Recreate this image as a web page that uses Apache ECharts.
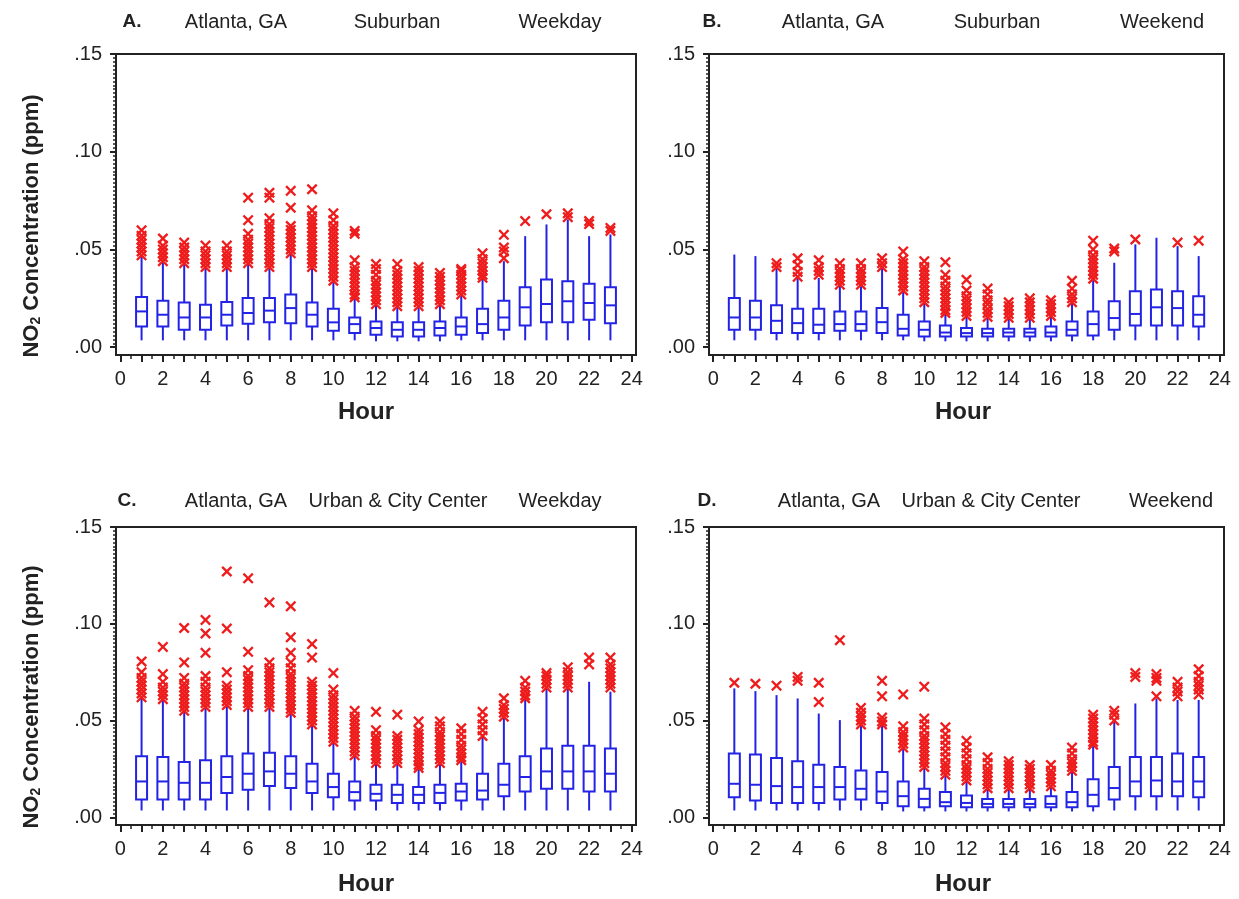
<!DOCTYPE html>
<html lang="en">
<head>
<meta charset="UTF-8">
<title>NO2 by hour, Atlanta</title>
<script src="https://cdn.jsdelivr.net/npm/echarts@6/dist/echarts.min.js"></script>
<style>
    *{margin:0;padding:0;box-sizing:border-box;}
    html,body{width:100vw;height:100vh;background:#fff;}
    #main{width:1239px;height:899px;}
</style>
</head>
<body>
<div id="main"></div>
<script>
    // ---- data (ppm), hours 1..23 ----
    var hours = [1,2,3,4,5,6,7,8,9,10,11,12,13,14,15,16,17,18,19,20,21,22,23];
    var xTickLabels = [0,2,4,6,8,10,12,14,16,18,20,22,24];
    var yTickLabels = [0, .05, .10, .15];

    // A. Suburban, weekday
    var aMin = [.0035,.0035,.0035,.0035,.0035,.0035,.0035,.0035,.0035,.0035,.0035,.003,.003,.003,.003,.0035,.0035,.0035,.0035,.0035,.0035,.0035,.0035];
    var aQ1  = [.0106,.0106,.0089,.0089,.0111,.0120,.0127,.0123,.0106,.0084,.0072,.0063,.0055,.0055,.0060,.0063,.0072,.0089,.0111,.0128,.0128,.0140,.0123];
    var aMed = [.0183,.0166,.0152,.0152,.0166,.0175,.0187,.0200,.0166,.0127,.0118,.0098,.0089,.0089,.0098,.0106,.0118,.0152,.0204,.0221,.0235,.0226,.0214];
    var aQ3  = [.0257,.0238,.0229,.0217,.0231,.0252,.0252,.0269,.0229,.0197,.0152,.0132,.0128,.0128,.0132,.0152,.0197,.0238,.0307,.0346,.0337,.0324,.0307];
    var aMax = [.0466,.0432,.0423,.0406,.0406,.0423,.0406,.0474,.0406,.0337,.0252,.0217,.0209,.0209,.0217,.0269,.0354,.0440,.0568,.0628,.0654,.0568,.0577];
    var aOut = [
        [.047,.049,.051,.053,.055,.057,.0598],
        [.044,.046,.048,.050,.052,.0556],
        [.043,.045,.047,.049,.051,.0535],
        [.041,.043,.045,.047,.049,.052],
        [.041,.043,.045,.047,.049,.052],
        [.043,.045,.047,.049,.051,.053,.055,.058,.065,.0765],
        [.041,.043,.045,.047,.049,.051,.053,.055,.057,.059,.061,.063,.066,.0765,.079],
        [.048,.050,.052,.054,.056,.058,.060,.062,.0714,.080],
        [.041,.043,.045,.047,.049,.051,.053,.055,.057,.059,.061,.063,.065,.067,.070,.0808],
        [.034,.036,.038,.040,.042,.044,.046,.048,.050,.052,.054,.056,.058,.060,.062,.065,.0685],
        [.0255,.027,.029,.031,.033,.035,.037,.039,.041,.0445,.058,.0595],
        [.022,.024,.026,.028,.030,.032,.034,.037,.040,.0425],
        [.021,.023,.025,.027,.029,.031,.033,.035,.037,.039,.0425],
        [.021,.023,.025,.027,.029,.031,.033,.035,.037,.039,.041],
        [.022,.024,.026,.028,.030,.032,.034,.036,.038],
        [.027,.029,.031,.033,.035,.037,.039,.040],
        [.0355,.037,.039,.041,.043,.045,.048],
        [.0455,.049,.051,.0575],
        [.0645],
        [.068],
        [.0665,.0685],
        [.063,.0645],
        [.0595,.061]
    ];

    // B. Suburban, weekend
    var bMin = [.0035,.0035,.0035,.0035,.0035,.0035,.0035,.0035,.0035,.003,.003,.003,.003,.003,.003,.003,.003,.0035,.0035,.0035,.0035,.0035,.0035];
    var bQ1  = [.0089,.0089,.0072,.0072,.0072,.0084,.0084,.0072,.0060,.0055,.0055,.0055,.0055,.0055,.0055,.0055,.0060,.0060,.0089,.0111,.0111,.0111,.0106];
    var bMed = [.0152,.0152,.0135,.0123,.0115,.0118,.0118,.0128,.0094,.0089,.0075,.0072,.0072,.0075,.0075,.0075,.0089,.0118,.0149,.0170,.0204,.0200,.0166];
    var bQ3  = [.0252,.0238,.0214,.0197,.0197,.0183,.0183,.0200,.0166,.0132,.0111,.0098,.0094,.0094,.0094,.0106,.0132,.0183,.0235,.0286,.0295,.0286,.0260];
    var bMax = [.0474,.0466,.0406,.0354,.0354,.0320,.0312,.0406,.0286,.0226,.0175,.0158,.0152,.0149,.0149,.0158,.0226,.0346,.0432,.0526,.0560,.0517,.0466];
    var bOut = [
        [],
        [],
        [.041,.043],
        [.036,.0385,.042,.0455],
        [.037,.039,.041,.0445],
        [.032,.034,.036,.038,.040,.043],
        [.032,.034,.036,.038,.040,.043],
        [.041,.043,.0455],
        [.029,.031,.033,.035,.037,.039,.041,.043,.045,.049],
        [.023,.025,.027,.029,.031,.033,.035,.037,.039,.041,.044],
        [.0175,.019,.021,.023,.025,.027,.029,.031,.034,.037,.0435],
        [.016,.018,.020,.022,.024,.026,.029,.0345],
        [.0155,.0175,.0195,.022,.024,.027,.030],
        [.015,.017,.019,.021,.023],
        [.015,.017,.019,.021,.023,.025],
        [.016,.018,.020,.022,.024],
        [.023,.025,.027,.030,.034],
        [.035,.037,.039,.041,.043,.045,.047,.050,.0545],
        [.049,.0505],
        [.0551],
        [],
        [.0535],
        [.0545]
    ];

    // C. Urban & City Center, weekday
    var cMin = [.0035,.0035,.0035,.0035,.0035,.0035,.0035,.0035,.0035,.0035,.0035,.0035,.0035,.0035,.0035,.0035,.0035,.0035,.0035,.0035,.0035,.0035,.0035];
    var cQ1  = [.0092,.0092,.0092,.0092,.0126,.0142,.0161,.0151,.0125,.0104,.0087,.0087,.0074,.0074,.0074,.0087,.0092,.0109,.0133,.0147,.0147,.0133,.0133];
    var cMed = [.0185,.0185,.0178,.0178,.0208,.0225,.0237,.0225,.0185,.0156,.0130,.0121,.0116,.0116,.0126,.0133,.0138,.0168,.0208,.0237,.0237,.0237,.0225];
    var cQ3  = [.0315,.0311,.0285,.0294,.0315,.0329,.0334,.0315,.0277,.0225,.0185,.0168,.0168,.0156,.0168,.0173,.0225,.0277,.0315,.0355,.0369,.0369,.0355];
    var cMax = [.0614,.0606,.0545,.0570,.0580,.0570,.0570,.0536,.0476,.0389,.0320,.0277,.0277,.0251,.0277,.0294,.0415,.0519,.0614,.0666,.0666,.0700,.0649];
    var cOut = [
        [.062,.064,.066,.068,.070,.072,.075,.0805],
        [.061,.063,.065,.067,.070,.074,.088],
        [.055,.057,.059,.061,.063,.065,.067,.069,.072,.080,.0978],
        [.057,.059,.061,.063,.065,.067,.070,.073,.085,.095,.102],
        [.058,.060,.062,.064,.066,.068,.075,.0975,.127],
        [.057,.059,.061,.063,.065,.067,.069,.071,.073,.076,.0855,.1235],
        [.057,.059,.061,.063,.065,.067,.069,.071,.073,.075,.077,.080,.111],
        [.054,.056,.058,.060,.062,.064,.066,.068,.070,.072,.074,.077,.080,.085,.093,.109],
        [.048,.050,.052,.054,.056,.058,.060,.062,.064,.066,.068,.070,.0825,.0895],
        [.039,.041,.043,.045,.047,.049,.051,.053,.055,.057,.059,.061,.063,.066,.0745],
        [.032,.034,.036,.038,.040,.042,.044,.046,.048,.050,.052,.055],
        [.028,.030,.032,.034,.036,.038,.040,.042,.045,.0545],
        [.028,.030,.032,.034,.036,.038,.040,.042,.053],
        [.0255,.027,.029,.031,.033,.035,.037,.039,.041,.043,.045,.0495],
        [.028,.030,.032,.034,.036,.038,.040,.042,.044,.047,.0495],
        [.0295,.031,.033,.035,.037,.040,.043,.046],
        [.042,.045,.048,.051,.0545],
        [.052,.054,.056,.058,.0615],
        [.0615,.063,.065,.067,.0705],
        [.067,.069,.071,.073,.0745],
        [.067,.069,.071,.073,.075,.0775],
        [.079,.0825],
        [.067,.069,.071,.073,.075,.077,.079,.0825]
    ];

    // D. Urban & City Center, weekend
    var dMin = [.0035,.0035,.0035,.0035,.0035,.0035,.0035,.0035,.003,.003,.003,.003,.003,.003,.003,.003,.003,.003,.0035,.0035,.0035,.0035,.0035];
    var dQ1  = [.0104,.0087,.0074,.0074,.0074,.0092,.0092,.0074,.0057,.0052,.0057,.0052,.0052,.0052,.0052,.0052,.0052,.0057,.0092,.0109,.0109,.0109,.0104];
    var dMed = [.0173,.0168,.0161,.0156,.0156,.0156,.0147,.0133,.0109,.0095,.0078,.0074,.0069,.0069,.0069,.0069,.0078,.0116,.0151,.0185,.0190,.0185,.0185];
    var dQ3  = [.0329,.0324,.0306,.0289,.0272,.0260,.0242,.0234,.0185,.0147,.0130,.0112,.0095,.0095,.0095,.0109,.0130,.0196,.0260,.0311,.0311,.0329,.0311];
    var dMax = [.0666,.0652,.0631,.0614,.0536,.0502,.0476,.0476,.0355,.0260,.0216,.0190,.0147,.0147,.0147,.0156,.0234,.0372,.0493,.0588,.0614,.0606,.0606];
    var dOut = [
        [.0695],
        [.069],
        [.068],
        [.0705,.0725],
        [.0595,.0695],
        [.0915],
        [.048,.050,.052,.054,.0565],
        [.048,.0495,.0515,.0625,.0705],
        [.036,.038,.040,.042,.044,.047,.0635],
        [.026,.028,.030,.032,.034,.036,.038,.040,.042,.045,.048,.051,.0675],
        [.022,.024,.026,.028,.031,.034,.037,.040,.043,.0465],
        [.019,.021,.023,.025,.027,.030,.033,.036,.0395],
        [.015,.017,.019,.021,.023,.025,.028,.031],
        [.015,.017,.019,.021,.023,.025,.027,.029],
        [.015,.017,.019,.021,.023,.025,.027],
        [.016,.018,.020,.022,.024,.027],
        [.024,.026,.028,.030,.033,.036],
        [.0375,.039,.041,.043,.045,.047,.049,.051,.053],
        [.050,.053,.055],
        [.0725,.0745],
        [.0625,.0705,.072,.074],
        [.0625,.065,.067,.070],
        [.0635,.066,.068,.070,.073,.0765]
    ];

    // ---- styling ----
    var INK = '#222';
    var BLUE = '#2323e6';
    var RED = '#ee1c1c';
    var FONT = "'Liberation Sans', Arial, sans-serif";
    var XMARK = 'path://M0,1.5 L1.5,0 L5,3.5 L8.5,0 L10,1.5 L6.5,5 L10,8.5 L8.5,10 L5,6.5 L1.5,10 L0,8.5 L3.5,5 Z';

    var xHourTicks = [];
    for (var h = 0; h <= 24; h++) xHourTicks.push(h);
    var xHalfTicks = [];
    for (var t = 0.5; t < 24; t += 1) xHalfTicks.push(t);
    var yMinorTicks = [];
    for (var k = 1; k < 75; k++) if (k % 25) yMinorTicks.push(k * 0.002);

    var panels = [
        {grid:{left:116, top:54, width:520, height:301}, mn:aMin, q1:aQ1, md:aMed, q3:aQ3, mx:aMax, out:aOut},
        {grid:{left:709, top:54, width:515, height:301}, mn:bMin, q1:bQ1, md:bMed, q3:bQ3, mx:bMax, out:bOut},
        {grid:{left:116, top:527, width:520, height:298}, mn:cMin, q1:cQ1, md:cMed, q3:cQ3, mx:cMax, out:cOut},
        {grid:{left:709, top:527, width:515, height:298}, mn:dMin, q1:dQ1, md:dMed, q3:dQ3, mx:dMax, out:dOut}
    ];

    function renderBox(params, api) {
        var x = api.value(0);
        var p = [1,2,3,4,5].map(function (i) { return api.coord([x, api.value(i)]); });
        var cx = p[0][0], hw = 5.5;
        var st = {stroke: BLUE, lineWidth: 2, fill: null};
        return {type:'group', children:[
            {type:'line', shape:{x1:cx, y1:p[0][1], x2:cx, y2:p[1][1]}, style:st},
            {type:'line', shape:{x1:cx, y1:p[3][1], x2:cx, y2:p[4][1]}, style:st},
            {type:'rect', shape:{x:cx-hw, y:p[3][1], width:2*hw, height:p[1][1]-p[3][1]}, style:st},
            {type:'line', shape:{x1:cx-hw, y1:p[2][1], x2:cx+hw, y2:p[2][1]}, style:st}
        ]};
    }

    var grids = [], xAxes = [], yAxes = [], series = [];
    panels.forEach(function (pn, g) {
        grids.push(Object.assign({show:true, borderColor:INK, borderWidth:2}, pn.grid));
        // main x axis + half-hour ticks
        xAxes.push({type:'value', gridIndex:g, min:-0.2, max:24.2, position:'bottom',
            axisLine:{show:true, onZero:false, lineStyle:{color:INK, width:2}},
            axisTick:{show:true, length:7, customValues:xHourTicks, lineStyle:{color:INK, width:2}},
            axisLabel:{customValues:xTickLabels, fontSize:20, color:INK, margin:14, fontFamily:FONT},
            splitLine:{show:false}});
        xAxes.push({type:'value', gridIndex:g, min:-0.2, max:24.2, position:'bottom',
            axisLine:{show:false, onZero:false},
            axisTick:{show:true, length:4, customValues:xHalfTicks, lineStyle:{color:INK, width:1.5}},
            axisLabel:{show:false}, splitLine:{show:false}});
        yAxes.push({type:'value', gridIndex:g, min:-0.004, max:0.15, position:'left',
            axisLine:{show:true, onZero:false, lineStyle:{color:INK, width:2}},
            axisTick:{show:true, length:6, customValues:yTickLabels, lineStyle:{color:INK, width:2}},
            axisLabel:{customValues:yTickLabels, fontSize:20, color:INK, margin:14, fontFamily:FONT,
                formatter:function (v) { return v.toFixed(2).replace(/^0/, ''); }},
            splitLine:{show:false}});
        yAxes.push({type:'value', gridIndex:g, min:-0.004, max:0.15, position:'left',
            axisLine:{show:false, onZero:false},
            axisTick:{show:true, length:3, customValues:yMinorTicks, lineStyle:{color:INK, width:1.5}},
            axisLabel:{show:false}, splitLine:{show:false}});

        var boxes = hours.map(function (hr, i) { return [hr, pn.mn[i], pn.q1[i], pn.md[i], pn.q3[i], pn.mx[i]]; });
        var pts = [];
        pn.out.forEach(function (vals, i) { vals.forEach(function (v) { pts.push([hours[i], v]); }); });

        series.push({type:'custom', xAxisIndex:2*g, yAxisIndex:2*g, renderItem:renderBox,
            data:boxes, encode:{x:0, y:[1,2,3,4,5]}, z:2, silent:true});
        series.push({type:'scatter', xAxisIndex:2*g, yAxisIndex:2*g, data:pts,
            symbol:XMARK, symbolSize:11, itemStyle:{color:RED, opacity:1}, z:3, silent:true});
    });

    function txt(x, y, s, size, bold) {
        return {type:'text', x:x, y:y, style:{text:s, font:(bold ? 'bold ' : '') + size + 'px ' + FONT,
            fill:INK, textAlign:'center', textVerticalAlign:'middle'}};
    }
    function yName(x, y) {
        return {type:'text', x:x, y:y, rotation:Math.PI/2,
            style:{text:'{a|NO}{b|2}{a| Concentration (ppm)}', fill:INK, textAlign:'center', textVerticalAlign:'middle',
                rich:{a:{fontSize:22, fontWeight:'bold', fontFamily:FONT, lineHeight:26, verticalAlign:'bottom', fill:INK},
                      b:{fontSize:14, fontWeight:'bold', fontFamily:FONT, lineHeight:10, verticalAlign:'bottom', fill:INK}}}};
    }

    var graphics = [
        txt(132, 22, 'A.', 19, true), txt(236, 22, 'Atlanta, GA', 20), txt(397, 22, 'Suburban', 20), txt(560, 22, 'Weekday', 20),
        txt(712, 22, 'B.', 19, true), txt(833, 22, 'Atlanta, GA', 20), txt(997, 22, 'Suburban', 20), txt(1162, 22, 'Weekend', 20),
        txt(127, 501, 'C.', 19, true), txt(236, 501, 'Atlanta, GA', 20), txt(398, 501, 'Urban & City Center', 20), txt(560, 501, 'Weekday', 20),
        txt(707, 501, 'D.', 19, true), txt(829, 501, 'Atlanta, GA', 20), txt(991, 501, 'Urban & City Center', 20), txt(1171, 501, 'Weekend', 20),
        txt(366, 412, 'Hour', 24, true), txt(963, 412, 'Hour', 24, true),
        txt(366, 884, 'Hour', 24, true), txt(963, 884, 'Hour', 24, true),
        yName(30, 226), yName(30, 697)
    ];

    var myChart = echarts.init(document.getElementById('main'));
    myChart.setOption({
        animation: false,
        backgroundColor: '#fff',
        grid: grids,
        xAxis: xAxes,
        yAxis: yAxes,
        series: series,
        graphic: graphics
    });
    window.onresize = myChart.resize;
</script>
</body>
</html>
